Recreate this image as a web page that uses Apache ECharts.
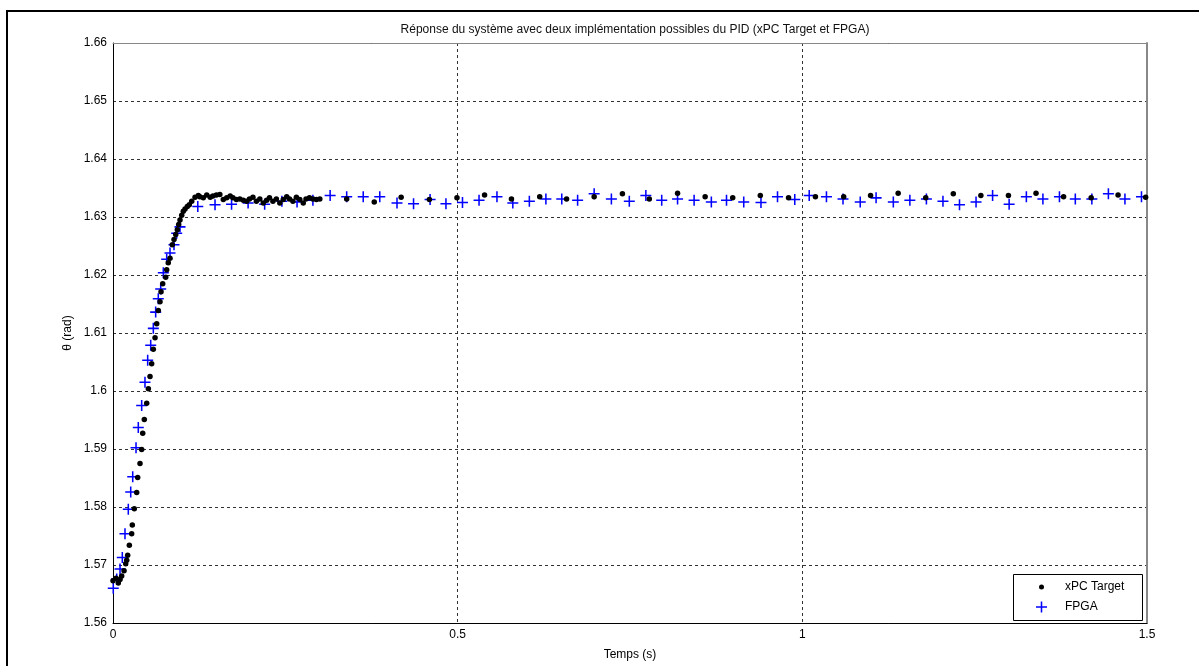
<!DOCTYPE html>
<html>
<head>
<meta charset="utf-8">
<script src="https://cdn.jsdelivr.net/npm/echarts@6/dist/echarts.min.js"></script>
<style>
html,body{margin:0;padding:0;background:#fff;}
#c{width:1199px;height:666px;}
</style>
</head>
<body>
<div id="c"></div>
<script>
const titleText = 'Réponse du système avec deux implémentation possibles du PID (xPC Target et FPGA)';
const xName = 'Temps (s)';
const yName = 'θ (rad)';
const seriesNames = ['xPC Target', 'FPGA'];

// xPC Target samples (time s, angle rad)
const xpcT = [0.000,0.0044,0.0077,0.0102,0.0126,0.016,0.0184,0.0199,0.0213,0.0237,0.0271,0.028,0.0309,0.0344,0.0358,0.0392,0.0416,0.0431,0.0454,0.0489,0.0513,0.0537,0.0561,0.0585,0.061,0.0634,0.0657,0.0682,0.0697,0.0721,0.0765,0.0779,0.0802,0.0827,0.086,0.0885,0.091,0.0933,0.0953,0.0972,0.0997,0.102,0.1045,0.1078,0.1107,0.1142,0.119,0.1238,
0.126,0.131,0.136,0.141,0.145,0.150,0.155,0.160,0.165,0.170,0.174,0.179,0.184,0.189,0.194,0.198,0.203,0.208,0.213,0.218,0.223,0.227,0.232,0.237,0.242,0.247,0.252,0.256,0.261,0.266,0.271,0.276,0.280,0.285,0.290,0.295,0.300,
0.339,0.379,0.418,0.459,0.499,0.539,0.578,0.619,0.658,0.698,0.739,0.778,0.819,0.859,0.899,0.939,0.980,1.019,1.060,1.099,1.139,1.179,1.219,1.259,1.299,1.339,1.379,1.419,1.458,1.498];
const xpcV = [1.5673,1.5677,1.5669,1.5675,1.5681,1.5690,1.5702,1.5708,1.5717,1.5734,1.5754,1.5769,1.5797,1.5825,1.5851,1.5875,1.5899,1.5927,1.5951,1.5979,1.6004,1.6025,1.6047,1.6072,1.6092,1.6116,1.6139,1.6154,1.6171,1.6185,1.6196,1.6209,1.6221,1.6229,1.6252,1.6261,1.6270,1.6278,1.6287,1.6295,1.6303,1.6310,1.6314,1.6318,1.6321,1.6327,1.6334,1.6337,
1.6335,1.6333,1.6338,1.6334,1.6336,1.6338,1.6339,1.6330,1.6333,1.6336,1.6333,1.6330,1.6331,1.6329,1.6327,1.6331,1.6334,1.6327,1.6331,1.6324,1.6329,1.6333,1.6327,1.6331,1.6324,1.6330,1.6335,1.6331,1.6327,1.6334,1.6330,1.6324,1.6331,1.6333,1.6331,1.6330,1.6331,
1.6331,1.6326,1.6334,1.6330,1.6333,1.6338,1.6331,1.6335,1.6331,1.6335,1.6340,1.6331,1.6341,1.6335,1.6333,1.6337,1.6333,1.6335,1.6335,1.6337,1.6341,1.6333,1.6340,1.6337,1.6337,1.6341,1.6335,1.6333,1.6338,1.6334];

// FPGA samples (time s, angle rad)
const fpgaT = [0.0004,0.0054,0.0102,0.0135,0.0174,0.0222,0.0257,0.0286,0.0334,0.0367,0.0416,0.0464,0.0503,0.0547,0.0585,0.0619,0.0657,0.0692,0.0730,0.0779,0.0827,0.0885,0.0924,0.0972,
0.123,0.148,0.172,0.196,0.220,0.245,0.267,0.290,0.315,0.339,0.363,0.387,0.412,0.436,0.460,0.483,0.507,0.531,0.557,0.580,0.604,0.628,0.651,0.674,0.698,0.723,0.749,0.773,0.796,0.819,0.843,0.868,0.890,0.915,0.940,0.964,0.989,1.010,1.035,1.059,1.084,1.107,1.132,1.156,1.180,1.204,1.228,1.252,1.276,1.300,1.325,1.349,1.373,1.396,1.420,1.444,1.468,1.492];
const fpgaV = [1.5660,1.5676,1.5693,1.5713,1.5754,1.5796,1.5826,1.5852,1.5902,1.5937,1.5975,1.6015,1.6053,1.6079,1.6108,1.6136,1.6159,1.6176,1.6204,1.6227,1.6238,1.6252,1.6272,1.6283,
1.6318,1.6321,1.6322,1.6324,1.6322,1.6327,1.6326,1.6329,1.6337,1.6335,1.6335,1.6335,1.6324,1.6323,1.6330,1.6323,1.6325,1.6329,1.6335,1.6324,1.6327,1.6331,1.6331,1.6329,1.6340,1.6331,1.6327,1.6337,1.6329,1.6331,1.6329,1.6326,1.6329,1.6326,1.6325,1.6335,1.6330,1.6337,1.6335,1.6331,1.6326,1.6333,1.6326,1.6329,1.6331,1.6327,1.6321,1.6326,1.6337,1.6322,1.6335,1.6331,1.6335,1.6331,1.6331,1.6340,1.6331,1.6335];

// axis ranges
const xMin = 0, xMax = 1.5, xStep = 0.5;
const yMin = 1.56, yMax = 1.66, yStep = 0.01;

const xpcData = xpcT.map((t, i) => [t, xpcV[i]]);
const fpgaData = fpgaT.map((t, i) => [t, fpgaV[i]]);

const FONT = '"Liberation Sans", Arial, sans-serif';
const plusPath = 'path://M4.3,0H5.7V4.3H10V5.7H5.7V10H4.3V5.7H0V4.3H4.3Z';

const chart = echarts.init(document.getElementById('c'), null, {renderer: 'canvas'});
const option = {
  backgroundColor: '#fff',
  animation: false,
  title: {
    text: titleText, left: 630, top: 19, textAlign: 'center',
    textStyle: {fontFamily: FONT, fontSize: 12, fontWeight: 'normal', color: '#111'}
  },
  grid: {left: 113, top: 43, right: 52, bottom: 42, containLabel: false},
  xAxis: [{
    type: 'value', min: xMin, max: xMax, interval: xStep,
    name: xName, nameLocation: 'middle', nameGap: 26, nameMoveOverlap: false,
    nameTextStyle: {fontFamily: FONT, fontSize: 12, color: '#000'},
    axisLine: {show: true, onZero: false, lineStyle: {color: '#000', width: 1}},
    axisTick: {show: false},
    axisLabel: {fontFamily: FONT, fontSize: 12, color: '#000', margin: 6},
    splitLine: {show: true, lineStyle: {color: '#333', width: 1, type: [3, 3]}}
  }, {
    type: 'value', position: 'top', min: xMin, max: xMax, interval: xStep,
    axisLine: {show: true, onZero: false, lineStyle: {color: '#888', width: 1}},
    axisTick: {show: false}, axisLabel: {show: false}, splitLine: {show: false}
  }],
  yAxis: [{
    type: 'value', min: yMin, max: yMax, interval: yStep,
    name: yName, nameLocation: 'middle', nameGap: 39, nameRotate: 90, nameMoveOverlap: false,
    nameTextStyle: {fontFamily: FONT, fontSize: 12, color: '#000'},
    axisLine: {show: true, onZero: false, lineStyle: {color: '#000', width: 1}},
    axisTick: {show: false},
    axisLabel: {fontFamily: FONT, fontSize: 12, color: '#000', margin: 6},
    splitLine: {show: true, lineStyle: {color: '#333', width: 1, type: [3, 3]}}
  }, {
    type: 'value', position: 'right', min: yMin, max: yMax, interval: yStep,
    axisLine: {show: true, onZero: false, lineStyle: {color: '#888', width: 2}},
    axisTick: {show: false}, axisLabel: {show: false}, splitLine: {show: false}
  }],
  legend: [{
    data: [{name: seriesNames[0], icon: 'circle'}],
    left: 1034, top: 576, orient: 'vertical',
    itemWidth: 5, itemHeight: 5,
    textStyle: {fontFamily: FONT, fontSize: 12, color: '#000', padding: [0, 0, 0, 16]}
  }, {
    data: [{name: seriesNames[1], icon: plusPath}],
    left: 1031, top: 596, orient: 'vertical',
    itemWidth: 11, itemHeight: 11,
    textStyle: {fontFamily: FONT, fontSize: 12, color: '#000', padding: [0, 0, 0, 13]}
  }],
  graphic: [
    {type: 'rect', z: 100, shape: {x: 7, y: 11, width: 1400, height: 900}, style: {fill: null, stroke: '#000', lineWidth: 2}},
    {type: 'rect', z: 0, shape: {x: 1013.5, y: 574.5, width: 129, height: 46}, style: {fill: '#fff', stroke: '#000', lineWidth: 1}}
  ],
  series: [{
    name: seriesNames[0], type: 'scatter', data: xpcData,
    symbol: 'circle', symbolSize: 5.5,
    itemStyle: {color: '#000', opacity: 1}, z: 3
  }, {
    name: seriesNames[1], type: 'scatter', data: fpgaData,
    symbol: plusPath, symbolSize: 11,
    itemStyle: {color: '#0000ff', opacity: 1}, z: 2
  }]
};
chart.setOption(option);
</script>
</body>
</html>
